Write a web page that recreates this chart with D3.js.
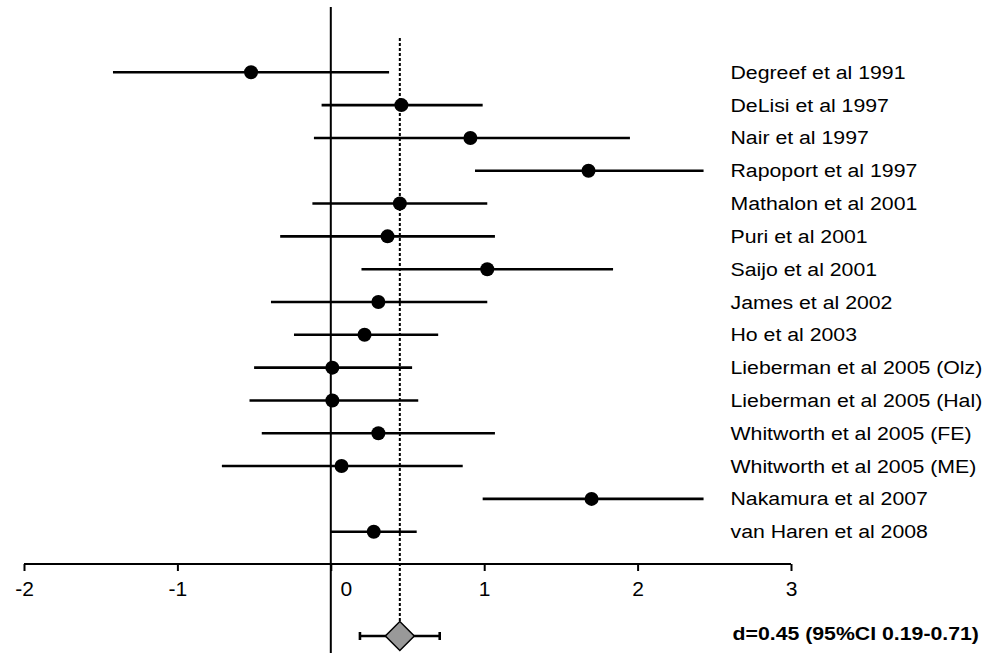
<!DOCTYPE html>
<html>
<head>
<meta charset="utf-8">
<script src="https://cdn.jsdelivr.net/npm/d3@7"></script>
<style>
  body { margin: 0; background: #fff; }
  svg { display: block; }
  text { font-family: "Liberation Sans", Arial, Helvetica, sans-serif; fill: #000; }
</style>
</head>
<body>
<div class="forest"></div>
<script>
// study names, effect sizes (d) and 95% CI
var studies = [
  "Degreef et al 1991",
  "DeLisi et al 1997",
  "Nair et al 1997",
  "Rapoport et al 1997",
  "Mathalon et al 2001",
  "Puri et al 2001",
  "Saijo et al 2001",
  "James et al 2002",
  "Ho et al 2003",
  "Lieberman et al 2005 (Olz)",
  "Lieberman et al 2005 (Hal)",
  "Whitworth et al 2005 (FE)",
  "Whitworth et al 2005 (ME)",
  "Nakamura et al 2007",
  "van Haren et al 2008"
];
var effects = [-0.52, 0.46, 0.91, 1.68, 0.45, 0.37, 1.02, 0.31, 0.22, 0.01, 0.01, 0.31, 0.07, 1.70, 0.28];
var lower   = [-1.42, -0.06, -0.11, 0.94, -0.12, -0.33, 0.20, -0.39, -0.24, -0.50, -0.53, -0.45, -0.71, 0.99, 0.00];
var upper   = [0.38, 0.99, 1.95, 2.43, 1.02, 1.07, 1.84, 1.02, 0.70, 0.53, 0.57, 1.07, 0.86, 2.43, 0.56];

// pooled estimate
var pooled = 0.45;
var pooledLow = 0.19;
var pooledHigh = 0.71;
var pooledLabel = "d=0.45 (95%CI 0.19-0.71)";

var tickValues = [-2, -1, 0, 1, 2, 3];

var svgWidth = 987;
var svgHeight = 653;

var svg = d3.select(".forest")
  .append("svg")
  .attr("width", svgWidth)
  .attr("height", svgHeight);

var rows = studies.map(function(s, i) {
  return { name: s, d: effects[i], lo: lower[i], hi: upper[i] };
});

// scales
var x = d3.scaleLinear()
  .domain([-2, 3])
  .range([24, 791]);

var y = d3.scalePoint()
  .domain(studies)
  .range([72.3, 531.7]);

var axisY = 564;
var pooledY = 636;
var textScale = 1.12;

// zero line
svg.append("line")
  .attr("x1", x(0)).attr("x2", x(0))
  .attr("y1", 7).attr("y2", svgHeight)
  .attr("stroke", "#000")
  .attr("stroke-width", 2);

// dashed line at pooled estimate
svg.append("line")
  .attr("x1", x(pooled)).attr("x2", x(pooled))
  .attr("y1", 38).attr("y2", pooledY - 15)
  .attr("stroke", "#000")
  .attr("stroke-width", 2)
  .attr("stroke-dasharray", "3,2");

// x axis
var bottomAxis = d3.axisBottom(x)
  .tickValues(tickValues)
  .tickSize(7)
  .tickPadding(9)
  .tickFormat(d3.format("d"));

var xAxis = svg.append("g")
  .attr("transform", `translate(0, ${axisY})`)
  .call(bottomAxis);

xAxis.select(".domain")
  .attr("d", `M${x(-2)},0H${x(3)}`)
  .attr("stroke", "#000")
  .attr("stroke-width", 2);

xAxis.selectAll(".tick line")
  .attr("stroke", "#000")
  .attr("stroke-width", 2);

// zero label sits a little to the right of the zero line
xAxis.selectAll(".tick text")
  .attr("font-size", 21)
  .attr("font-family", null)
  .attr("dy", null)
  .attr("y", 32)
  .attr("text-anchor", "middle")
  .attr("dx", d => d === 0 ? 15 : 0)
  .text(d => d < 0 ? "-" + Math.abs(d) : d);

// CI lines
svg.selectAll(".ci")
  .data(rows)
  .enter()
  .append("line")
  .attr("class", "ci")
  .attr("x1", d => x(d.lo))
  .attr("x2", d => x(d.hi))
  .attr("y1", d => y(d.name))
  .attr("y2", d => y(d.name))
  .attr("stroke", "#000")
  .attr("stroke-width", 2.6);

// points
svg.selectAll(".pt")
  .data(rows)
  .enter()
  .append("circle")
  .attr("class", "pt")
  .attr("cx", d => x(d.d))
  .attr("cy", d => y(d.name))
  .attr("r", 7)
  .attr("fill", "#000");

// study labels
svg.selectAll(".lbl")
  .data(rows)
  .enter()
  .append("text")
  .attr("class", "lbl")
  .attr("transform", d => `translate(730.5, ${y(d.name) + 6.5}) scale(${textScale},1)`)
  .attr("font-size", 19)
  .text(d => d.name);

// pooled estimate: whiskers with caps and a grey diamond
var pooledGroup = svg.append("g");

pooledGroup.append("line")
  .attr("x1", x(pooledLow)).attr("x2", x(pooledHigh))
  .attr("y1", pooledY).attr("y2", pooledY)
  .attr("stroke", "#000")
  .attr("stroke-width", 2.6);

pooledGroup.selectAll(".cap")
  .data([pooledLow, pooledHigh])
  .enter()
  .append("line")
  .attr("class", "cap")
  .attr("x1", d => x(d)).attr("x2", d => x(d))
  .attr("y1", pooledY - 4).attr("y2", pooledY + 4)
  .attr("stroke", "#000")
  .attr("stroke-width", 2.6);

pooledGroup.append("path")
  .attr("d", d3.symbol().type(d3.symbolSquare).size(420))
  .attr("transform", `translate(${x(pooled)}, ${pooledY}) rotate(45)`)
  .attr("fill", "#999")
  .attr("stroke", "#000")
  .attr("stroke-width", 1.5);

svg.append("text")
  .attr("transform", `translate(732.5, 640) scale(${textScale},1)`)
  .attr("font-size", 19)
  .attr("font-weight", "bold")
  .text(pooledLabel);
</script>
</body>
</html>
